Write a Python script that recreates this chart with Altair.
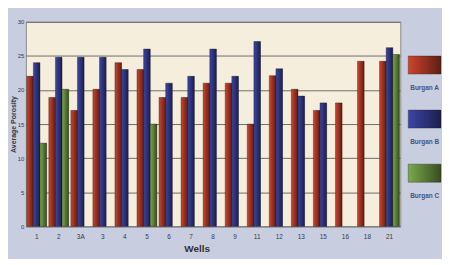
import altair as alt
import pandas as pd

wells = ["1", "2", "3A", "3", "4", "5", "6", "7", "8", "9", "11", "12", "13", "15", "16", "18", "21"]
series = ["Burgan A", "Burgan B", "Burgan C"]
burgan_a = [22.0, 18.9, 17.0, 20.1, 24.0, 23.0, 18.9, 18.9, 21.0, 21.0, 15.0, 22.1, 20.1, 17.0, 18.1, 24.2, 24.2]
burgan_b = [24.0, 24.8, 24.8, 24.8, 23.0, 26.0, 21.0, 22.0, 26.0, 22.0, 27.1, 23.1, 19.1, 18.1, None, None, 26.2]
burgan_c = [12.2, 20.1, None, None, None, 15.0, None, None, None, None, None, None, None, None, None, None, 25.2]
y_ticks = [0, 5, 10, 15, 20, 25, 30]
colors = ["#d0432c", "#3c45a6", "#7aaa4a"]

rows = []
for i, w in enumerate(wells):
    for s, vals in zip(series, [burgan_a, burgan_b, burgan_c]):
        if vals[i] is not None:
            rows.append({"well": w, "series": s, "value": vals[i]})
df = pd.DataFrame(rows)
leg_df = pd.DataFrame({"series": series})

shade = alt.LinearGradient(
    gradient="linear",
    stops=[alt.GradientStop(offset=0, color="rgba(0,0,0,0)"),
           alt.GradientStop(offset=1, color="rgba(0,0,0,0.55)")],
    x1=0, x2=1, y1=0, y2=0,
)

x_enc = alt.X("well:N", sort=wells,
              scale=alt.Scale(paddingInner=0.1, paddingOuter=0.04),
              axis=alt.Axis(title="Wells", labelAngle=0, ticks=False, domain=False,
                            labelFontSize=6.5, labelColor="#3a3a3a", labelPadding=7,
                            titleFontSize=10, titleFontWeight="bold", titleColor="#333333",
                            titlePadding=4, titleX=172))
y_enc = alt.Y("value:Q", scale=alt.Scale(domain=[0, 30], nice=False),
              axis=alt.Axis(values=y_ticks, title="Average Porosity", ticks=False, domain=False,
                            labelFontSize=6, labelColor="#3a3a3a", labelPadding=2,
                            titleFontSize=7, titleColor="#3a3a3a", titlePadding=1,
                            gridColor="#6e6e6e", gridWidth=1))
xo = alt.XOffset("series:N", sort=series, scale=alt.Scale(domain=series))

bars = alt.Chart(df).mark_bar(stroke="#2a1a1a", strokeWidth=0.4).encode(
    x=x_enc, y=y_enc, xOffset=xo,
    color=alt.Color("series:N", scale=alt.Scale(domain=series, range=colors), legend=None),
)
bars_shade = alt.Chart(df).mark_bar(fill=shade).encode(x=x_enc, y=y_enc, xOffset=xo)

main = alt.layer(bars, bars_shade).properties(
    width=377, height=206,
    view=alt.ViewBackground(fill="#f6eedc", stroke="#8a8a8a"),
)

ly = alt.Y("series:N", sort=series, axis=None, scale=alt.Scale(padding=0.8))
swatch = alt.Chart(leg_df).mark_point(
    shape="M-1,-0.55H1V0.55H-1Z", size=1089, filled=True, opacity=1,
    stroke="#333333", strokeWidth=0.4,
).encode(
    y=ly, x=alt.value(16.5),
    color=alt.Color("series:N", scale=alt.Scale(domain=series, range=colors), legend=None),
)
swatch_shade = alt.Chart(leg_df).mark_point(
    shape="M-1,-0.55H1V0.55H-1Z", size=1089, filled=True, opacity=1, fill=shade,
).encode(y=ly, x=alt.value(16.5))
labels = alt.Chart(leg_df).mark_text(
    fontSize=6.5, fontWeight="bold", color="#4b5275", dy=23,
).encode(y=ly, x=alt.value(16.5), text="series:N")

legend = alt.layer(swatch, swatch_shade, labels).properties(
    width=33, height=196,
    view=alt.ViewBackground(strokeOpacity=0, fillOpacity=0),
)

chart = alt.hconcat(main, legend, spacing=6).properties(
    background="#c9cde0",
    padding={"top": 9, "left": 0, "right": 0, "bottom": 4},
).configure_axis(labelFont="Liberation Sans", titleFont="Liberation Sans").configure_text(
    font="Liberation Sans")

chart.save("out.html", embed_options={"renderer": "svg", "actions": False})
